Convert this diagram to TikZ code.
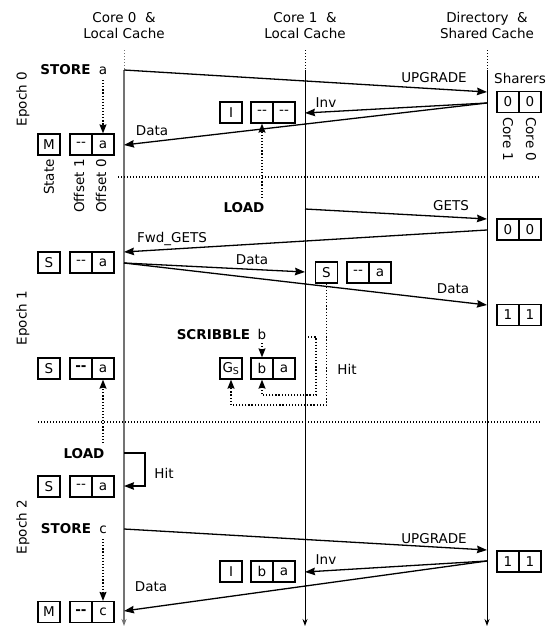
\documentclass[tikz,border=0pt]{standalone}
\usepackage{fontspec}
\setmainfont{DejaVu Sans}
\usetikzlibrary{arrows.meta}
\definecolor{lifegray}{RGB}{115,115,115}
\begin{document}
\begin{tikzpicture}[x=1pt,y=-1pt,
  every node/.style={font=\fontsize{13.5}{16}\selectfont, inner sep=0pt},
  cell/.style={draw, line width=1.2pt, minimum width=22pt, minimum height=21pt},
  lab/.style={anchor=base},
  msg/.style={line width=1.3pt, -{Stealth[length=10pt,width=7.5pt,inset=1pt]}},
  dots/.style={line width=1.3pt, dash pattern=on 1.2pt off 1.9pt, -{Stealth[length=9pt,width=7pt,inset=1pt]}},
  sepline/.style={line width=1.1pt, dash pattern=on 1.1pt off 1.9pt},
  life/.style={line width=0.9pt, -{Stealth[length=7pt,width=5pt]}},
  lifetop/.style={line width=0.9pt, dash pattern=on 1pt off 2pt}
]
\useasboundingbox (0,0) rectangle (555,627);

% headers
\node[align=center, anchor=north] (hd0) at (124,12) {Core 0\ \ \&\\Local Cache};
\node[align=center, anchor=north] (hd1) at (305,12) {Core 1\ \ \&\\Local Cache};
\node[align=center, anchor=north] (hd2) at (487,12) {Directory\ \ \&\\Shared Cache};

% lifelines
\coordinate (c0t) at (124,50); \coordinate (c0s) at (124,70); \coordinate (c0b) at (124,626);
\coordinate (c1t) at (305,50); \coordinate (c1s) at (305,70); \coordinate (c1b) at (305,626);
\coordinate (dt) at (487,50); \coordinate (ds) at (487,70); \coordinate (db) at (487,626);
\draw[lifetop, lifegray] (c0t) -- (c0s);
\draw[lifetop] (c1t) -- (c1s);
\draw[lifetop] (dt) -- (ds);
\draw[life, lifegray, line width=2pt] (c0s) -- (c0b);
\draw[life] (c1s) -- (c1b);
\draw[life] (ds) -- (db);

% separators
\coordinate (s1a) at (118,177); \coordinate (s1b) at (540,177);
\coordinate (s2a) at (38,422); \coordinate (s2b) at (540,422);
\draw[sepline] (s1a) -- (s1b);
\draw[sepline] (s2a) -- (s2b);

% epoch labels
\node[rotate=90] (ep0) at (23,99) {Epoch 0};
\node[rotate=90] (ep1) at (23,318) {Epoch 1};
\node[rotate=90] (ep2) at (23,527) {Epoch 2};

% ---------- Epoch 0
\node[cell] (e0st) at (49,144.5) {M};
\node[cell] (e0o1) at (81,144.5) {-{}-};
\node[cell] (e0o0) at (103,144.5) {a};
\node[rotate=90, anchor=east] (lstate) at (49,159) {State};
\node[rotate=90, anchor=east] (loff1) at (79,159) {Offset 1};
\node[rotate=90, anchor=east] (loff0) at (101,159) {Offset 0};

\node[cell] (e0c1st) at (231,112.5) {I};
\node[cell] (e0c1o1) at (262,112.5) {-{}-};
\node[cell] (e0c1o0) at (284,112.5) {-{}-};

\node[lab] (tsh) at (520,83) {Sharers};
\node[cell] (e0sh1) at (508,102) {0};
\node[cell] (e0sh0) at (530,102) {0};
\node[rotate=-90, anchor=west] (lcore1) at (508,117) {Core 1};
\node[rotate=-90, anchor=west] (lcore0) at (531,117) {Core 0};

\node[lab] (tst0) at (65.5,74) {\textbf{STORE}};
\node[lab] (ta0) at (103,74) {a};
\coordinate (da0) at (103,80);
\draw[dots] (da0) -- (e0o0.north);

\coordinate (m1b) at (487,92);
\draw[msg] (c0s) -- (m1b);
\node[lab] (tup0) at (434,82) {UPGRADE};
\coordinate (m2a) at (487,103);
\coordinate (m2b) at (305,113);
\coordinate (m3b) at (124,145);
\draw[msg] (m2a) -- (m2b);
\draw[msg] (m2a) -- (m3b);
\node[lab] (tinv0) at (326,107) {Inv};
\node[lab] (tdata0) at (152,135) {Data};

% ---------- Epoch 1
\node[lab] (tload1) at (244,212) {\textbf{LOAD}};
\coordinate (dl1) at (262,198);
\draw[dots] (dl1) -- (e0c1o1.south);

\coordinate (m4a) at (305,209); \coordinate (m4b) at (487,219);
\draw[msg] (m4a) -- (m4b);
\node[lab] (tgets) at (451,210) {GETS};
\node[cell] (e1sh1a) at (508,229.5) {0};
\node[cell] (e1sh0a) at (530,229.5) {0};

\coordinate (m5a) at (487,230); \coordinate (m5b) at (124,252);
\draw[msg] (m5a) -- (m5b);
\node[lab] (tfwd) at (172,242) {Fwd\_GETS};

\node[cell] (e1st) at (49,262.5) {S};
\node[cell] (e1o1) at (81,262.5) {-{}-};
\node[cell] (e1o0) at (103,262.5) {a};

\coordinate (m6a) at (124,263);
\coordinate (m6b) at (305,272);
\coordinate (m7b) at (487,305);
\draw[msg] (m6a) -- (m6b);
\draw[msg] (m6a) -- (m7b);
\node[lab] (tdata1) at (252,264) {Data};
\node[lab] (tdata2) at (453,293) {Data};

\node[cell] (e1c1st) at (326.5,272.5) {S};
\node[cell] (e1c1o1) at (358,272.5) {-{}-};
\node[cell] (e1c1o0) at (380,272.5) {a};

\node[cell] (e1sh1b) at (508,315) {1};
\node[cell] (e1sh0b) at (530,315) {1};

\node[lab] (tscr) at (213.5,339) {\textbf{SCRIBBLE}};
\node[lab] (tb) at (262,339) {b};
\coordinate (db1) at (262,343);

\node[cell] (gs) at (231,368.5) {G\textsubscript{S}};
\node[cell] (e1c1b) at (262,368.5) {b};
\node[cell] (e1c1a) at (284,368.5) {a};
\draw[dots] (db1) -- (e1c1b.north);

\coordinate (h1) at (305,337);
\coordinate (h1c) at (316,337);
\coordinate (h1d) at (316,395);
\draw[dots] (h1) -- (h1c) -- (h1d) -| (e1c1b.south);
\coordinate (hb2) at (326.5,405);
\draw[dots] (e1c1st.south) -- (hb2) -| (gs.south);
\node[lab] (thit1) at (347,374) {Hit};

\node[cell] (e1bst) at (49,368.5) {S};
\node[cell] (e1bo1) at (81,368.5) {\textbf{-{}-}};
\node[cell] (e1bo0) at (103,368.5) {a};

% ---------- Epoch 2
\node[lab] (tload2) at (84,458) {\textbf{LOAD}};
\coordinate (dl2) at (103,443);
\draw[dots] (dl2) -- (e1bo0.south);

\coordinate (h2a) at (124,453); \coordinate (h2c) at (145,453);
\coordinate (h2d) at (145,486); \coordinate (h2b) at (124,486);
\draw[msg] (h2a) -- (h2c) -- (h2d) -- (h2b);
\node[lab] (thit2) at (164,478) {Hit};

\node[cell] (e2st) at (49,486.5) {S};
\node[cell] (e2o1) at (81,486.5) {-{}-};
\node[cell] (e2o0) at (103,486.5) {a};

\node[lab] (tst2) at (66,533) {\textbf{STORE}};
\node[lab] (tc) at (103,533) {c};
\coordinate (dc) at (103,539);

\coordinate (m8a) at (124,529); \coordinate (m8b) at (487,550);
\draw[msg] (m8a) -- (m8b);
\node[lab] (tup2) at (434,543) {UPGRADE};
\node[cell] (e2sh1) at (508,561.5) {1};
\node[cell] (e2sh0) at (530,561.5) {1};

\coordinate (m9a) at (487,561); \coordinate (m9b) at (305,572);
\coordinate (m10b) at (124,611);
\draw[msg] (m9a) -- (m9b);
\draw[msg] (m9a) -- (m10b);
\node[lab] (tinv2) at (326,564) {Inv};
\node[lab] (tdata3) at (151,591) {Data};

\node[cell] (e2c1st) at (231,571.5) {I};
\node[cell] (e2c1b) at (262,571.5) {b};
\node[cell] (e2c1a) at (284,571.5) {a};

\node[cell] (e2mst) at (49,612) {M};
\node[cell] (e2mo1) at (81,612) {\textbf{-{}-}};
\node[cell] (e2mo0) at (103,612) {c};
\draw[dots] (dc) -- (e2mo0.north);
\end{tikzpicture}
\end{document}
